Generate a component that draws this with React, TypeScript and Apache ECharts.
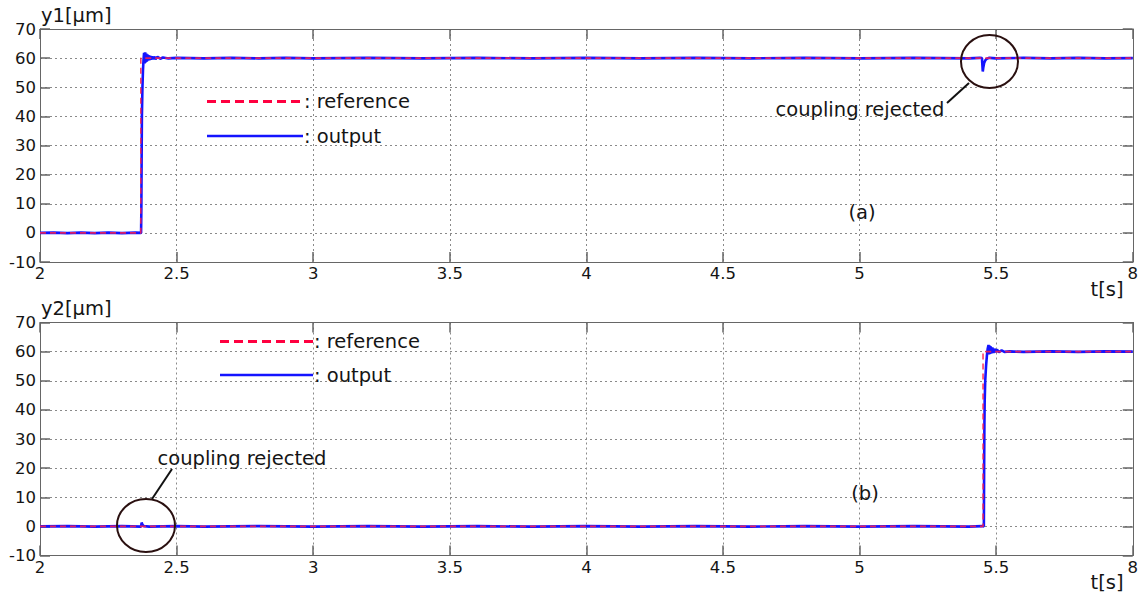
import React, { useEffect, useRef } from 'react';
import * as echarts from 'echarts';

// x ticks (axis runs 2..6; last tick is labelled "8" as in the original figure)
const xTickValues = [2, 2.5, 3, 3.5, 4, 4.5, 5, 5.5, 6];
const xTickLabels = ['2', '2.5', '3', '3.5', '4', '4.5', '5', '5.5', '8'];
const yMin = -10;
const yMax = 70;
const yStep = 10;

// (a) channel 1
const reference1: [number, number][] = [
  [2, 0], [2.369, 0], [2.369, 60], [6, 60],
];
const output1: [number, number][] = [
  [2, 0], [2.05, 0.1], [2.1, -0.1], [2.15, 0.1], [2.2, -0.1], [2.25, 0.1], [2.3, -0.1], [2.35, 0.1], [2.37, 0],
  [2.371, 8], [2.372, 25], [2.373, 40], [2.375, 50], [2.377, 56], [2.379, 59.5], [2.381, 61.8], [2.383, 58.2],
  [2.385, 62], [2.387, 58.5], [2.389, 61.6], [2.391, 58.8], [2.393, 61.3], [2.395, 59.1], [2.397, 61],
  [2.4, 59.3], [2.403, 60.8], [2.406, 59.5], [2.41, 60.6], [2.414, 59.6], [2.418, 60.5], [2.423, 59.7],
  [2.43, 60.4], [2.44, 59.8], [2.45, 60.2], [2.47, 59.9], [2.5, 60.1], [2.6, 59.9], [2.7, 60.1], [2.8, 59.9],
  [2.9, 60.1], [3.0, 59.9], [3.2, 60.1], [3.4, 59.9], [3.6, 60.1], [3.8, 59.9], [4.0, 60.1], [4.2, 59.9],
  [4.4, 60.1], [4.6, 59.9], [4.8, 60.1], [5.0, 59.9], [5.2, 60.1], [5.4, 59.9], [5.44, 60.1], [5.448, 60],
  [5.451, 55.4], [5.453, 56.8], [5.456, 58.3], [5.46, 59.2], [5.466, 59.8], [5.475, 60.1], [5.5, 59.9],
  [5.6, 60.1], [5.7, 59.9], [5.8, 60.1], [5.9, 59.9], [6, 60],
];

// (b) channel 2
const reference2: [number, number][] = [
  [2, 0], [5.452, 0], [5.452, 60], [6, 60],
];
const output2: [number, number][] = [
  [2, 0], [2.1, 0.1], [2.2, -0.1], [2.3, 0.1], [2.37, -0.1], [2.372, 1.3], [2.375, 0.6], [2.38, 0.1],
  [2.4, -0.1], [2.5, 0.1], [2.6, -0.1], [2.8, 0.1], [3.0, -0.1], [3.2, 0.1], [3.4, -0.1], [3.6, 0.1],
  [3.8, -0.1], [4.0, 0.1], [4.2, -0.1], [4.4, 0.1], [4.6, -0.1], [4.8, 0.1], [5.0, -0.1], [5.2, 0.1],
  [5.4, -0.1], [5.45, 0.1], [5.455, 0], [5.456, 20], [5.457, 35], [5.458, 43], [5.46, 50], [5.463, 55],
  [5.466, 58.5], [5.469, 61], [5.472, 62.3], [5.474, 59], [5.476, 62.1], [5.478, 59.2], [5.48, 61.8],
  [5.483, 59.4], [5.486, 61.4], [5.49, 59.6], [5.494, 61], [5.498, 59.8], [5.503, 60.7], [5.51, 59.8],
  [5.52, 60.4], [5.53, 59.9], [5.55, 60.1], [5.6, 59.9], [5.7, 60.1], [5.8, 59.9], [5.9, 60.1], [6, 60],
];

const FONT = 'DejaVu Sans';
const TXT = '#151515';
const AXIS = '#666666';
const REF_COLOR = '#ff1f4b';
const OUT_COLOR = '#1414ff';

function xLabel(v: number): string {
  const i = xTickValues.findIndex((t) => Math.abs(t - v) < 1e-6);
  return i >= 0 ? xTickLabels[i] : '';
}

export default function App() {
  const ref = useRef<HTMLDivElement>(null);

  useEffect(() => {
    document.body.style.margin = '0';
    const chart = echarts.init(ref.current!, null, { renderer: 'svg' });

    const grids = [
      { left: 40, top: 29, width: 1093, height: 233 },
      { left: 40, top: 322.5, width: 1093, height: 233 },
    ];

    const xMin = xTickValues[0];
    const xMax = xTickValues[xTickValues.length - 1];

    const mainX = (g: number) => ({
      type: 'value', gridIndex: g, min: xMin, max: xMax, interval: 0.5, position: 'bottom',
      axisLine: { show: true, onZero: false, lineStyle: { color: AXIS, width: 1 } },
      axisTick: { show: true, inside: true, length: 10, lineStyle: { color: AXIS, width: 1.5 } },
      axisLabel: { show: true, margin: 3, fontFamily: FONT, fontSize: 16.5, color: TXT, formatter: xLabel, showMinLabel: true, showMaxLabel: true },
      splitLine: { show: true, lineStyle: { color: '#8a8a8a', type: [2, 3], width: 1 } },
    });
    const topX = (g: number) => ({
      type: 'value', gridIndex: g, min: xMin, max: xMax, interval: 0.5, position: 'top',
      axisLine: { show: true, onZero: false, lineStyle: { color: AXIS, width: 1 } },
      axisTick: { show: true, inside: true, length: 10, lineStyle: { color: AXIS, width: 1.5 } },
      axisLabel: { show: false },
      splitLine: { show: false },
    });
    const mainY = (g: number) => ({
      type: 'value', gridIndex: g, min: yMin, max: yMax, interval: yStep, position: 'left',
      axisLine: { show: true, onZero: false, lineStyle: { color: AXIS, width: 1 } },
      axisTick: { show: true, inside: true, length: 10, lineStyle: { color: AXIS, width: 1.5 } },
      axisLabel: { show: true, margin: 4, fontFamily: FONT, fontSize: 16.5, color: TXT, showMinLabel: true, showMaxLabel: true },
      splitLine: { show: true, lineStyle: { color: '#8a8a8a', type: [2, 3], width: 1 } },
    });
    const rightY = (g: number) => ({
      type: 'value', gridIndex: g, min: yMin, max: yMax, interval: yStep, position: 'right',
      axisLine: { show: true, onZero: false, lineStyle: { color: AXIS, width: 1 } },
      axisTick: { show: true, inside: true, length: 10, lineStyle: { color: AXIS, width: 1.5 } },
      axisLabel: { show: false },
      splitLine: { show: false },
    });

    const lineSeries = (data: [number, number][], xi: number, yi: number, isRef: boolean) => ({
      type: 'line', data, xAxisIndex: xi, yAxisIndex: yi, showSymbol: false, symbol: 'none',
      z: isRef ? 3 : 2,
      lineStyle: isRef
        ? { color: REF_COLOR, width: 1.6, type: [6, 4], opacity: 0.85 }
        : { color: OUT_COLOR, width: 2.6 },
    });

    const txt = (text: string, x: number, y: number, align: string = 'left', size = 19.5) => ({
      type: 'text', x, y,
      style: { text, fill: TXT, font: `${size}px "${FONT}"`, align, verticalAlign: 'middle' },
      z: 20,
    });
    const legendLines = (x0: number, x1: number, yRef: number, yOut: number) => [
      { type: 'line', shape: { x1: x0, y1: yRef, x2: x1, y2: yRef }, style: { stroke: '#ff0040', lineWidth: 3, lineDash: [9, 5] }, z: 20 },
      { type: 'line', shape: { x1: x0, y1: yOut, x2: x1, y2: yOut }, style: { stroke: OUT_COLOR, lineWidth: 2.5 }, z: 20 },
      txt(': reference', x1 + 1, yRef),
      txt(': output', x1 + 1, yOut),
    ];

    chart.setOption({
      animation: false,
      backgroundColor: '#ffffff',
      grid: grids,
      xAxis: [mainX(0), topX(0), mainX(1), topX(1)],
      yAxis: [mainY(0), rightY(0), mainY(1), rightY(1)],
      series: [
        lineSeries(output1, 0, 0, false),
        lineSeries(reference1, 0, 0, true),
        lineSeries(output2, 2, 2, false),
        lineSeries(reference2, 2, 2, true),
      ],
      graphic: [
        txt('y1[µm]', 41, 15),
        txt('y2[µm]', 41, 308),
        txt('t[s]', 1107, 289, 'center'),
        txt('t[s]', 1107, 582, 'center'),
        txt('(a)', 862, 212, 'center'),
        txt('(b)', 865, 493, 'center'),
        ...legendLines(207, 303, 101.5, 136),
        ...legendLines(220, 313, 341.5, 375),
        { type: 'ellipse', shape: { cx: 989.5, cy: 61.5, rx: 28.5, ry: 26.5 }, style: { fill: 'none', stroke: '#2a1010', lineWidth: 2 }, z: 20 },
        { type: 'line', shape: { x1: 969, y1: 83, x2: 947, y2: 103 }, style: { stroke: '#111', lineWidth: 2 }, z: 20 },
        txt('coupling rejected', 860, 109, 'center'),
        { type: 'ellipse', shape: { cx: 146, cy: 525.5, rx: 29, ry: 26.5 }, style: { fill: 'none', stroke: '#2a1010', lineWidth: 2 }, z: 20 },
        { type: 'line', shape: { x1: 152, y1: 499, x2: 172, y2: 469 }, style: { stroke: '#111', lineWidth: 2 }, z: 20 },
        txt('coupling rejected', 242, 458, 'center'),
      ],
    });

    return () => chart.dispose();
  }, []);

  return <div ref={ref} style={{ width: 1141, height: 600 }} />;
}
